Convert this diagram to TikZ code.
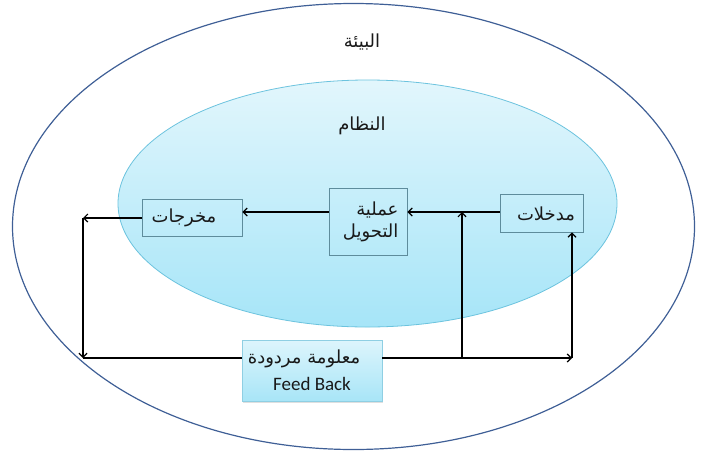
\documentclass[tikz,border=0pt]{standalone}
\usepackage{fontspec}
\newfontfamily\arabicfont[Script=Arabic]{DejaVu Sans}
\newfontfamily\calfont{Carlito}
\TeXXeTstate=1
\usetikzlibrary{arrows.meta,shadows}
\definecolor{envline}{HTML}{3F5F96}
\definecolor{sysline}{HTML}{6CC3DE}
\definecolor{systop}{HTML}{E2F6FC}
\definecolor{sysbot}{HTML}{A6E5F8}
\definecolor{boxline}{HTML}{5E8C9C}
\definecolor{fbline}{HTML}{8FCFE3}
\definecolor{fbtop}{HTML}{DDF5FC}
\definecolor{fbbot}{HTML}{A8E5F7}
\begin{document}
\begin{tikzpicture}[x=1pt,y=-1pt,
  lbl/.style={font=\arabicfont\fontsize{18}{22}\selectfont, text=black!90},
  stagebox/.style={draw=boxline, line width=0.8pt, inner sep=0pt},
  arr/.style={line width=1.4pt, -{Straight Barb[length=4pt,width=8pt,line width=1.2pt]}},
  lin/.style={line width=1.4pt}]
\useasboundingbox (0,0) rectangle (703,453);
\draw[envline, line width=1.2pt] (353.5,226.5) ellipse [x radius=341, y radius=223];
\shade[top color=systop, bottom color=sysbot] (367.5,203.5) ellipse [x radius=249.5, y radius=123.5];
\draw[sysline, line width=0.8pt] (367.5,203.5) ellipse [x radius=249.5, y radius=123.5];
\node[lbl] (env) at (362,42) {\beginR البيئة\endR};
\node[lbl] (sys) at (362,126) {\beginR النظام\endR};
\node[stagebox, minimum width=100pt, minimum height=37pt] (out) at (192,218) {};
\node[lbl] (outt) at (184,218) {\beginR مخرجات\endR};
\node[stagebox, minimum width=78pt, minimum height=67pt] (proc) at (368,221.5) {};
\node[lbl, align=right, anchor=east] (proct) at (402,222) {\beginR عملية\endR\\\beginR التحويل\endR};
\node[stagebox, minimum width=83pt, minimum height=38pt] (in) at (541.5,213) {};
\node[lbl] (int) at (546,214) {\beginR مدخلات\endR};
\node[draw=fbline, line width=0.8pt, top color=fbtop, bottom color=fbbot, minimum width=140pt, minimum height=61pt, inner sep=0pt, drop shadow={shadow xshift=1pt, shadow yshift=-1.5pt, opacity=0.25}] (fb) at (312,370.5) {};
\node[lbl] (fbar) at (304,359) {\beginR معلومة مردودة\endR};
\node[font=\calfont\fontsize{19}{22}\selectfont, text=black!90] (fben) at (312,384) {Feed Back};
\coordinate (mainy) at (0,212);
\coordinate (lt) at (83,218);
\coordinate (lb) at (83,358);
\coordinate (mb) at (462,358);
\coordinate (rb) at (572,358);
\draw[arr] (in.west |- mainy) -- (proc.east |- mainy);
\draw[arr] (proc.west |- mainy) -- (out.east |- mainy);
\draw[arr] (out.west) -- (lt);
\draw[arr] (lt) -- (lb);
\draw[lin] (lb) -- (fb.west |- lb);
\draw[arr] (fb.east |- rb) -- (rb);
\draw[arr] (rb) -- (rb |- in.south);
\draw[arr] (mb) -- (mb |- mainy);
\end{tikzpicture}
\end{document}
